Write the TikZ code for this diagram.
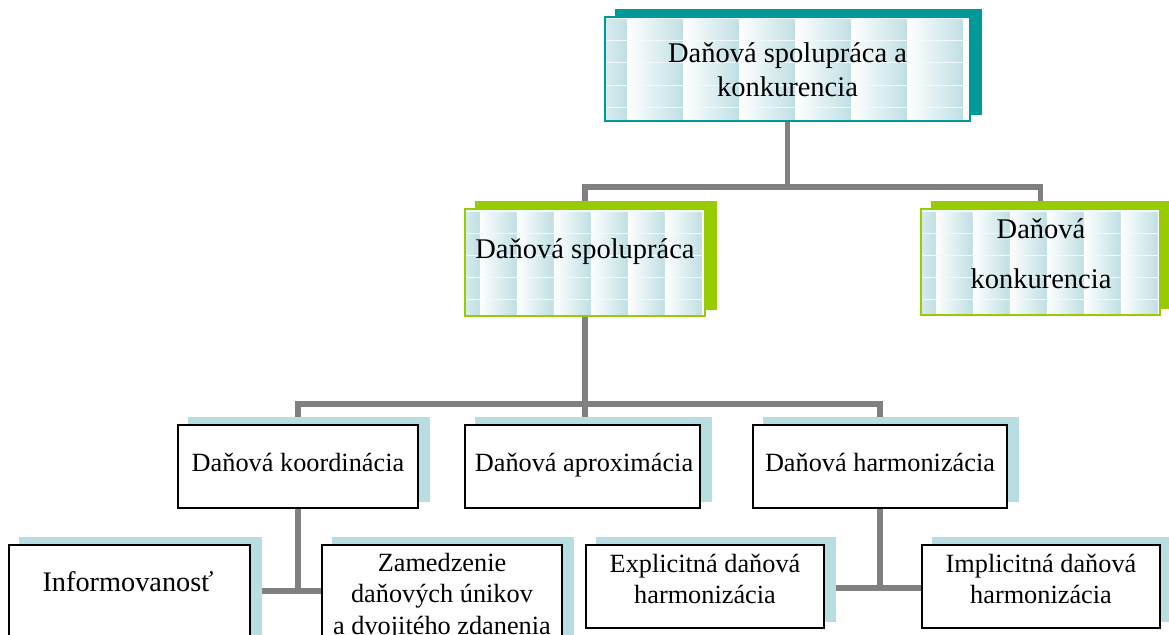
\documentclass[tikz,border=0pt]{standalone}
\usepackage{fontspec}
\setmainfont{Liberation Serif}
\usetikzlibrary{calc}

\definecolor{tealedge}{HTML}{009999}
\definecolor{limeedge}{HTML}{99CC00}
\definecolor{paleshadow}{HTML}{B8DEE2}
\definecolor{tileblue}{HTML}{BFDFE3}
\definecolor{tilegap}{HTML}{F2F9FA}
\definecolor{linkgray}{HTML}{808080}

\pgfdeclarelayer{links}
\pgfdeclarelayer{shades}
\pgfsetlayers{links,shades,main}

% offset block behind a box
\newcommand\dropshade[2]{%
  \begin{pgfonlayer}{shades}
    \fill[#2] ($(#1.south west)+(11,-7)$) rectangle ($(#1.north east)+(11,-7)$);
  \end{pgfonlayer}}

\begin{document}
\begin{tikzpicture}[x=1pt,y=-1pt,
  tiled/.style={path picture={
    \fill[tilegap] (path picture bounding box.north west) rectangle (path picture bounding box.south east);
    \foreach \c in {0,...,9}{
      \foreach \r in {0,...,5}{
        \shade[left color=white,right color=tileblue]
          ($(path picture bounding box.north west)+(\c*#1-0.6*#1,\r*22+3)$)
          rectangle ++(#1,20);
      }}}},
  tealbox/.style={draw=tealedge,line width=2pt,fill=white,tiled=56,inner sep=0pt},
  limebox/.style={draw=limeedge,line width=2pt,fill=white,tiled=37,inner sep=0pt},
  plainbox/.style={draw=black,line width=1.6pt,fill=white,inner sep=0pt},
  bigtext/.style={font=\fontsize{28.5}{34}\selectfont,inner sep=0pt,anchor=base},
  smalltext/.style={font=\fontsize{26.3}{31.5}\selectfont,inner sep=0pt,anchor=base},
  link/.style={draw=linkgray,line width=5.5pt}]

\useasboundingbox (0,0) rectangle (1169,634);

% level 1
\node[tealbox,minimum width=365pt,minimum height=104pt] (top) at (787.5,69) {};
\dropshade{top}{tealedge}
\node[bigtext] (top-t) at (787.5,63)
  {\begin{tabular}[t]{@{}c@{}}Daňová spolupráca a\\konkurencia\end{tabular}};

% level 2
\node[limebox,minimum width=240pt,minimum height=107pt] (coop) at (585,262.5) {};
\dropshade{coop}{limeedge}
\node[bigtext] (coop-t) at (585,258) {Daňová spolupráca};

\node[limebox,minimum width=239pt,minimum height=106pt] (comp) at (1040.5,262) {};
\dropshade{comp}{limeedge}
\node[bigtext] (comp-t) at (1041,238)
  {\begin{tabular}[t]{@{}c@{}}Daňová\\[16pt]konkurencia\end{tabular}};

% level 3
\node[plainbox,minimum width=240pt,minimum height=83pt] (koord) at (298,466.5) {};
\dropshade{koord}{paleshadow}
\node[smalltext] (koord-t) at (298,471) {Daňová koordinácia};

\node[plainbox,minimum width=235pt,minimum height=83pt] (aprox) at (582.5,466.5) {};
\dropshade{aprox}{paleshadow}
\node[smalltext] (aprox-t) at (584,471) {Daňová aproximácia};

\node[plainbox,minimum width=254pt,minimum height=83pt] (harm) at (880,466.5) {};
\dropshade{harm}{paleshadow}
\node[smalltext] (harm-t) at (880,471) {Daňová harmonizácia};

% level 4
\node[plainbox,minimum width=241pt,minimum height=105pt] (info) at (129.5,597.5) {};
\dropshade{info}{paleshadow}
\node[smalltext,font=\fontsize{28.3}{34}\selectfont] (info-t) at (128,591) {Informovanosť};

\node[plainbox,minimum width=240pt,minimum height=105pt] (zam) at (442,597.5) {};
\dropshade{zam}{paleshadow}
\node[smalltext] (zam-t) at (442,571)
  {\begin{tabular}[t]{@{}c@{}}Zamedzenie\\daňových únikov\\a dvojitého zdanenia\end{tabular}};

\node[plainbox,minimum width=238pt,minimum height=83pt] (expl) at (705,586.5) {};
\dropshade{expl}{paleshadow}
\node[smalltext] (expl-t) at (705,572)
  {\begin{tabular}[t]{@{}c@{}}Explicitná daňová\\harmonizácia\end{tabular}};

\node[plainbox,minimum width=238pt,minimum height=83pt] (impl) at (1041,586.5) {};
\dropshade{impl}{paleshadow}
\node[smalltext] (impl-t) at (1041,572)
  {\begin{tabular}[t]{@{}c@{}}Implicitná daňová\\harmonizácia\end{tabular}};

% connectors
\begin{pgfonlayer}{links}
  \coordinate (j1) at ($(top.south)+(0,65)$);
  \draw[link] (top.south) -- (j1) -| (coop.north);
  \draw[link] (j1) -| (comp.north);

  \coordinate (j2) at ($(coop.south)+(0,87)$);
  \draw[link] (coop.south) -- (j2) -| (koord.north);
  \draw[link] (j2) -| (harm.north);
  \draw[link] (j2) -- (j2 |- aprox.north);

  \coordinate (j3) at ($(koord.south)+(0,82)$);
  \draw[link] (koord.south) -- (j3);
  \draw[link] (j3 -| info.east) -- (j3 -| zam.west);

  \coordinate (j4) at ($(harm.south)+(0,79)$);
  \draw[link] (harm.south) -- (j4);
  \draw[link] (j4 -| expl.east) -- (j4 -| impl.west);
\end{pgfonlayer}
\end{tikzpicture}
\end{document}
